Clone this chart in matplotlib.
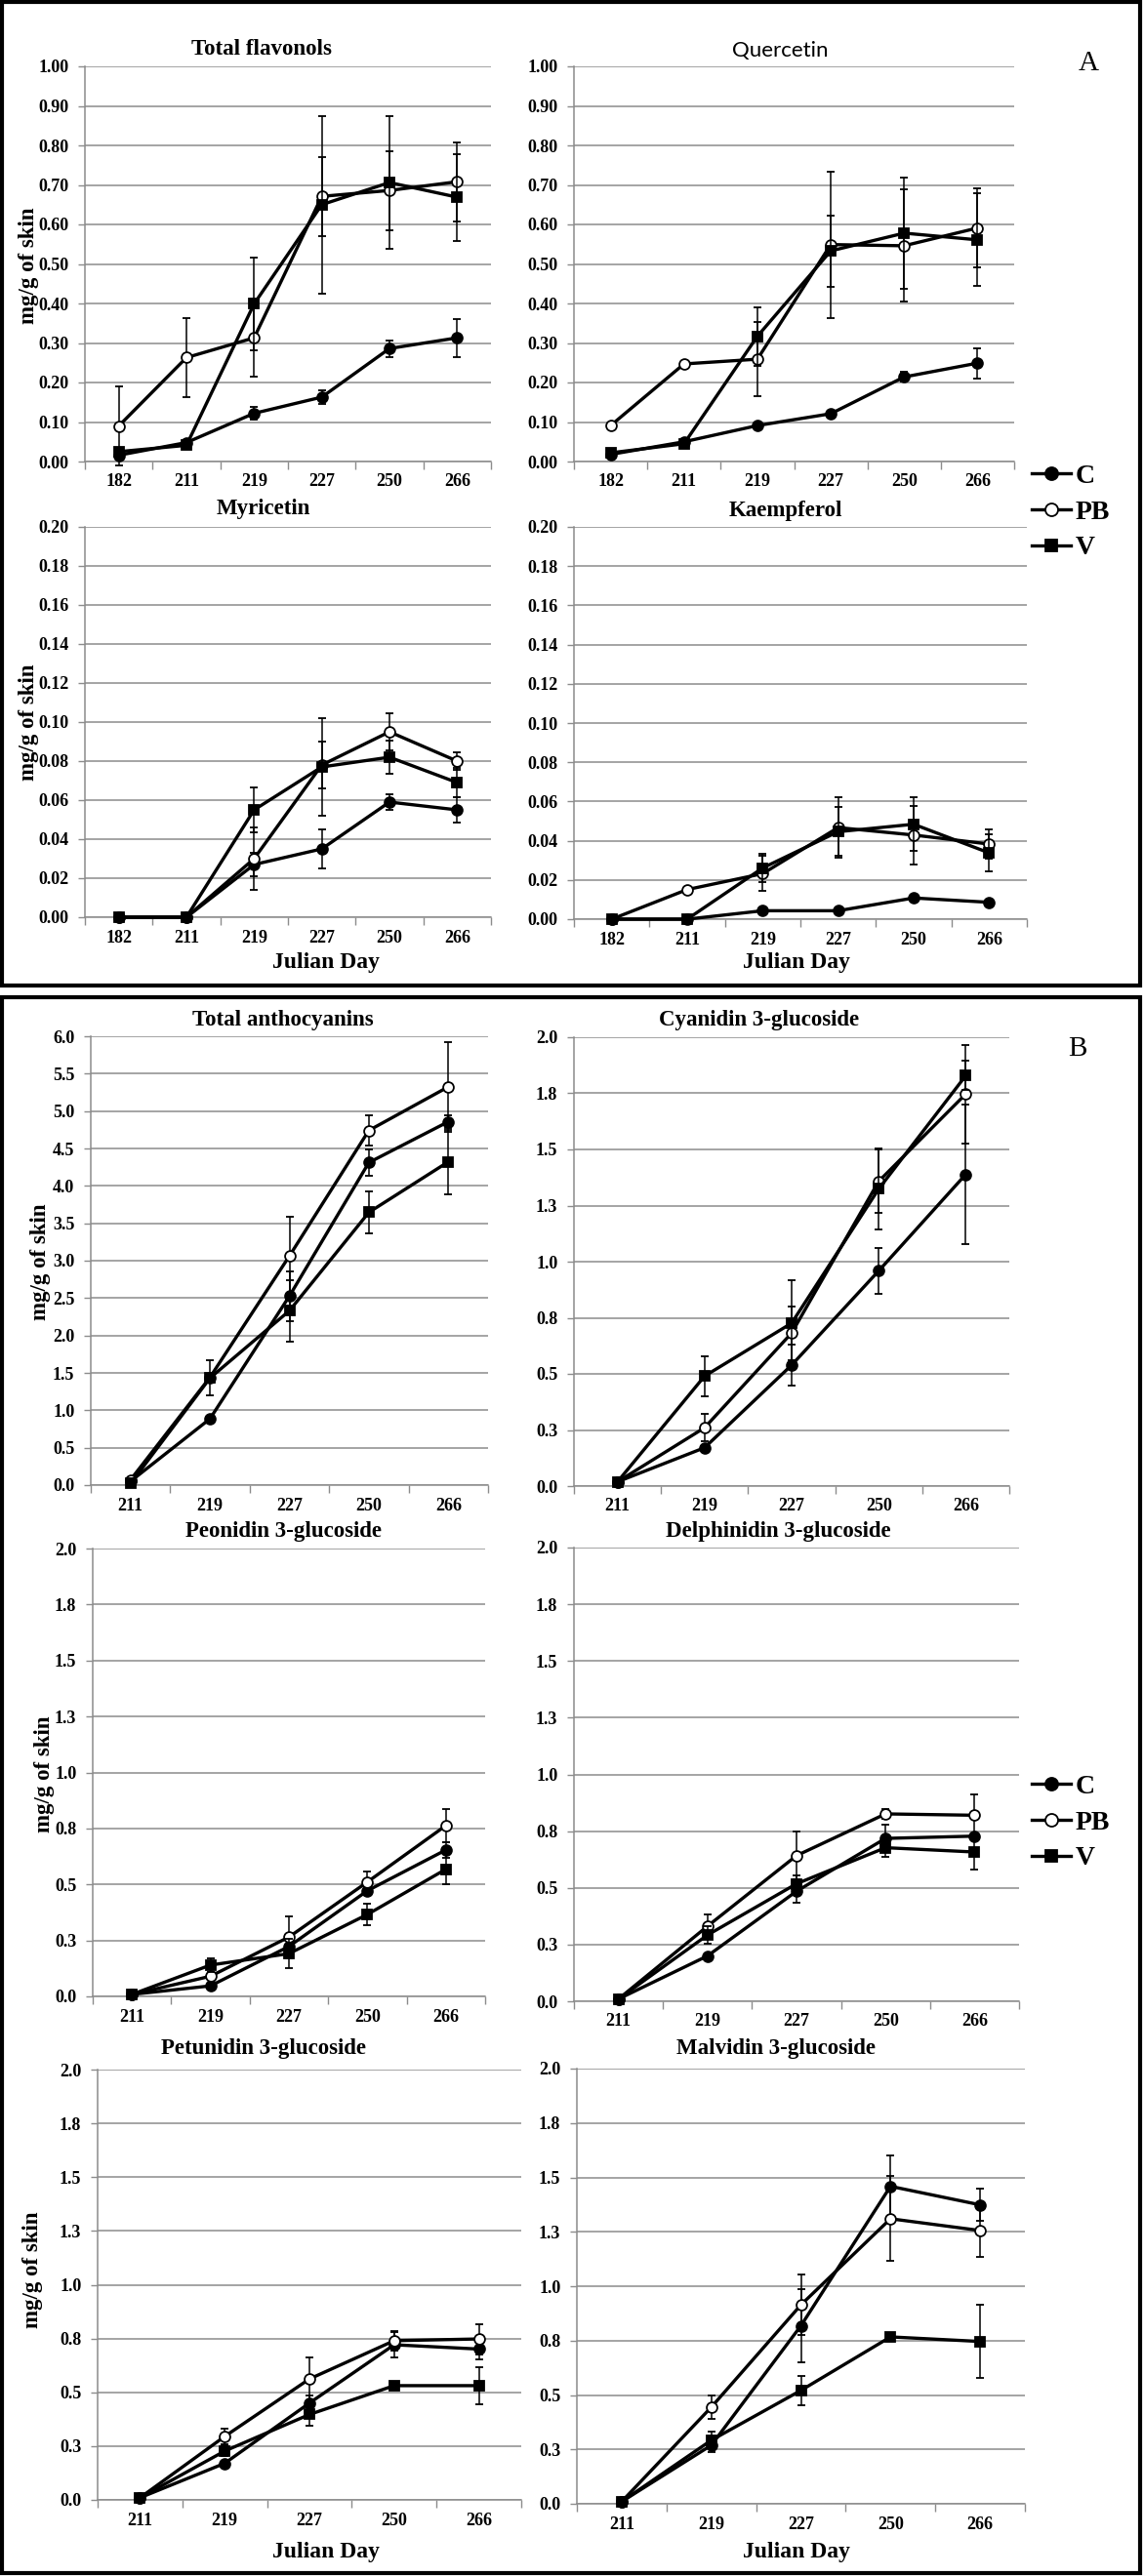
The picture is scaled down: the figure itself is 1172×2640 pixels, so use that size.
import numpy as np
import matplotlib
matplotlib.use("Agg")
import matplotlib.pyplot as plt
from matplotlib.patches import Rectangle

# ---------------- data ----------------
days_A = ["182", "211", "219", "227", "250", "266"]
days_B = ["211", "219", "227", "250", "266"]
series_names = ["C", "PB", "V"]

# Total flavonols
flav_C = [0.016, 0.048, 0.122, 0.163, 0.286, 0.313]
flav_C_err = [0, 0, 0.016, 0.018, 0.021, 0.048]
flav_PB = [0.090, 0.263, 0.313, 0.671, 0.686, 0.708]
flav_PB_err = [0.100, 0.099, 0.099, 0.100, 0.100, 0.100]
flav_V = [0.025, 0.041, 0.399, 0.650, 0.706, 0.669]
flav_V_err = [0, 0, 0.118, 0.225, 0.167, 0.110]

# Quercetin
quer_C = [0.018, 0.050, 0.091, 0.121, 0.214, 0.249]
quer_C_err = [0, 0, 0, 0, 0.012, 0.038]
quer_PB = [0.091, 0.247, 0.259, 0.549, 0.546, 0.591]
quer_PB_err = [0, 0, 0.093, 0.185, 0.142, 0.100]
quer_V = [0.022, 0.045, 0.317, 0.533, 0.578, 0.561]
quer_V_err = [0, 0, 0.074, 0.090, 0.140, 0.117]

# Myricetin
myr_C = [0, 0, 0.027, 0.035, 0.059, 0.055]
myr_C_err = [0, 0, 0.006, 0.010, 0.004, 0.0067]
myr_PB = [0, 0, 0.030, 0.078, 0.095, 0.080]
myr_PB_err = [0, 0, 0.016, 0.012, 0.0093, 0.0047]
myr_V = [0, 0, 0.055, 0.077, 0.082, 0.069]
myr_V_err = [0, 0, 0.0115, 0.025, 0.0085, 0.0075]

# Kaempferol
kae_C = [0, 0, 0.0043, 0.0043, 0.0108, 0.0086]
kae_C_err = [0, 0, 0, 0, 0, 0]
kae_PB = [0, 0.0151, 0.0232, 0.0467, 0.0429, 0.0383]
kae_PB_err = [0, 0, 0.009, 0.0155, 0.0148, 0.0077]
kae_V = [0, 0, 0.0261, 0.0446, 0.0484, 0.0338]
kae_V_err = [0, 0, 0.007, 0.0125, 0.0137, 0.0094]

# Total anthocyanins
anth_C = [0.05, 0.886, 2.527, 4.312, 4.858]
anth_C_err = [0, 0, 0.33, 0.18, 0.09]
anth_PB = [0.07, 1.44, 3.063, 4.741, 5.324]
anth_PB_err = [0, 0, 0.52, 0.196, 0.60]
anth_V = [0.02, 1.431, 2.331, 3.646, 4.322]
anth_V_err = [0, 0.233, 0.41, 0.28, 0.43]

# Cyanidin 3-glucoside
cya_C = [0.019, 0.171, 0.539, 0.959, 1.389]
cya_C_err = [0, 0, 0.09, 0.104, 0.31]
cya_PB = [0.019, 0.26, 0.682, 1.358, 1.747]
cya_PB_err = [0, 0.062, 0.12, 0.14, 0.22]
cya_V = [0.019, 0.49, 0.726, 1.324, 1.829]
cya_V_err = [0, 0.09, 0.19, 0.18, 0.065]

# Peonidin 3-glucoside
peo_C = [0.009, 0.047, 0.223, 0.472, 0.654]
peo_C_err = [0, 0, 0.05, 0.02, 0.035]
peo_PB = [0.009, 0.09, 0.265, 0.511, 0.763]
peo_PB_err = [0, 0, 0.093, 0.046, 0.075]
peo_V = [0.009, 0.14, 0.191, 0.366, 0.568]
peo_V_err = [0, 0.03, 0.065, 0.05, 0.068]

# Delphinidin 3-glucoside
del_C = [0.01, 0.20, 0.485, 0.718, 0.728]
del_C_err = [0, 0, 0.05, 0.06, 0]
del_PB = [0.01, 0.331, 0.642, 0.826, 0.82]
del_PB_err = [0, 0.05, 0.105, 0.02, 0.092]
del_V = [0.01, 0.292, 0.518, 0.677, 0.658]
del_V_err = [0, 0.04, 0.035, 0.04, 0.076]

# Petunidin 3-glucoside
pet_C = [0.01, 0.17, 0.45, 0.721, 0.701]
pet_C_err = [0, 0, 0.036, 0.057, 0.05]
pet_PB = [0.01, 0.295, 0.562, 0.74, 0.748]
pet_PB_err = [0, 0.037, 0.10, 0.045, 0.07]
pet_V = [0.01, 0.227, 0.397, 0.531, 0.531]
pet_V_err = [0, 0.025, 0.054, 0, 0.088]

# Malvidin 3-glucoside
mal_C = [0.01, 0.269, 0.818, 1.459, 1.374]
mal_C_err = [0, 0.03, 0.17, 0.14, 0.074]
mal_PB = [0.01, 0.444, 0.914, 1.31, 1.256]
mal_PB_err = [0, 0.053, 0.14, 0.195, 0.12]
mal_V = [0.01, 0.292, 0.521, 0.767, 0.746]
mal_V_err = [0, 0.04, 0.068, 0.01, 0.167]

# tick labels
yt_flav = [0.0, 0.1, 0.2, 0.3, 0.4, 0.5, 0.6, 0.7, 0.8, 0.9, 1.0]
yl_flav = ["0.00", "0.10", "0.20", "0.30", "0.40", "0.50", "0.60", "0.70", "0.80", "0.90", "1.00"]
yt_small = [0.0, 0.02, 0.04, 0.06, 0.08, 0.10, 0.12, 0.14, 0.16, 0.18, 0.20]
yl_small = ["0.00", "0.02", "0.04", "0.06", "0.08", "0.10", "0.12", "0.14", "0.16", "0.18", "0.20"]
yt_anth = [0.0, 0.5, 1.0, 1.5, 2.0, 2.5, 3.0, 3.5, 4.0, 4.5, 5.0, 5.5, 6.0]
yl_anth = ["0.0", "0.5", "1.0", "1.5", "2.0", "2.5", "3.0", "3.5", "4.0", "4.5", "5.0", "5.5", "6.0"]
yt_glu = [0.0, 0.25, 0.5, 0.75, 1.0, 1.25, 1.5, 1.75, 2.0]
yl_glu = ["0.0", "0.3", "0.5", "0.8", "1.0", "1.3", "1.5", "1.8", "2.0"]

# ---------------- figure ----------------
W, H, DPI = 1172, 2640, 100
plt.rcParams["font.family"] = ["Liberation Serif", "DejaVu Serif"]
plt.rcParams["font.weight"] = "bold"

fig = plt.figure(figsize=(W / DPI, H / DPI), dpi=DPI)
fig.patch.set_facecolor("white")

GRID = "#8c8c8c"


def fx(x):
    return x / W


def fy(y):
    return 1 - y / H


def make_axes(x0, x1, ytop, ybot):
    return fig.add_axes([fx(x0), fy(ybot), (x1 - x0) / W, (ybot - ytop) / H])


def draw(ax, days, data, ymax, yticks, yticklabels):
    n = len(days)
    x = np.arange(n)
    styles = [("o", "black", 7.8), ("o", "white", 7.8), ("s", "black", 7.4)]
    lines = []
    for (vals, errs), (mk, face, ms), z in zip(data, styles, [3, 4, 5]):
        e = np.array(errs, dtype=float)
        e[e == 0] = np.nan
        cont = ax.errorbar(x, vals, yerr=e, color="black", lw=2.4, marker=mk,
                           ms=ms, mfc=face, mec="black", mew=1.3,
                           ecolor="black", elinewidth=1.1, capsize=2.8,
                           capthick=1.1, zorder=z)
        for art in cont.get_children():
            art.set_clip_on(False)
        lines.append(cont[0])
    ax.set_xlim(-0.5, n - 0.5)
    ax.set_ylim(0, ymax)
    ax.set_yticks(yticks)
    ax.set_yticklabels(yticklabels)
    ax.set_xticks(np.arange(n + 1) - 0.5)
    ax.set_xticklabels([])
    ax.set_xticks(x, minor=True)
    ax.set_xticklabels(days, minor=True)
    ax.tick_params(axis="x", which="major", length=6, width=1.0, color=GRID,
                   direction="out")
    ax.tick_params(axis="x", which="minor", length=0, pad=9, labelsize=13)
    ax.tick_params(axis="y", length=5, width=1.0, color=GRID, pad=7,
                   labelsize=13)
    ax.grid(axis="y", color=GRID, lw=1.1)
    ax.set_axisbelow(True)
    for s in ["top", "right"]:
        ax.spines[s].set_visible(False)
    for s in ["left", "bottom"]:
        ax.spines[s].set_color(GRID)
        ax.spines[s].set_linewidth(1.1)
    ax.patch.set_alpha(0)
    return lines


def title(x, y, text, **kw):
    opts = dict(ha="center", va="center", fontsize=16.5, weight="bold")
    opts.update(kw)
    fig.text(fx(x), fy(y), text, **opts)


def ylabel(x, y):
    fig.text(fx(x), fy(y), "mg/g of skin", rotation=90, ha="center",
             va="center", fontsize=16.5, weight="bold")


def xlabel(x, y):
    fig.text(fx(x), fy(y), "Julian Day", ha="center", va="center",
             fontsize=17, weight="bold")


# Panel A
axA1 = make_axes(87, 503, 68, 473)
linesA = draw(axA1, days_A, [(flav_C, flav_C_err), (flav_PB, flav_PB_err),
                             (flav_V, flav_V_err)], 1.0, yt_flav, yl_flav)
axA2 = make_axes(588, 1039, 68, 473)
draw(axA2, days_A, [(quer_C, quer_C_err), (quer_PB, quer_PB_err),
                    (quer_V, quer_V_err)], 1.0, yt_flav, yl_flav)
axA3 = make_axes(87, 503, 540, 940)
draw(axA3, days_A, [(myr_C, myr_C_err), (myr_PB, myr_PB_err),
                    (myr_V, myr_V_err)], 0.2, yt_small, yl_small)
axA4 = make_axes(588, 1052, 540, 942)
draw(axA4, days_A, [(kae_C, kae_C_err), (kae_PB, kae_PB_err),
                    (kae_V, kae_V_err)], 0.2, yt_small, yl_small)

title(268, 50, "Total flavonols")
title(799, 52, "Quercetin", family="Lato", weight="normal", fontsize=16)
title(270, 522, "Myricetin")
title(805, 523, "Kaempferol")
ylabel(29, 272)
ylabel(29, 740)
xlabel(334, 987)
xlabel(816, 987)
fig.text(fx(1115), fy(65), "A", ha="center", va="center", fontsize=21,
         weight="normal")

# Panel B
axB1 = make_axes(93, 500, 1062, 1522)
linesB = draw(axB1, days_B, [(anth_C, anth_C_err), (anth_PB, anth_PB_err),
                             (anth_V, anth_V_err)], 6.0, yt_anth, yl_anth)
axB2 = make_axes(588, 1034, 1063, 1523)
draw(axB2, days_B, [(cya_C, cya_C_err), (cya_PB, cya_PB_err),
                    (cya_V, cya_V_err)], 2.0, yt_glu, yl_glu)
axB3 = make_axes(95, 497, 1587, 2046)
draw(axB3, days_B, [(peo_C, peo_C_err), (peo_PB, peo_PB_err),
                    (peo_V, peo_V_err)], 2.0, yt_glu, yl_glu)
axB4 = make_axes(588, 1044, 1586, 2051)
draw(axB4, days_B, [(del_C, del_C_err), (del_PB, del_PB_err),
                    (del_V, del_V_err)], 2.0, yt_glu, yl_glu)
axB5 = make_axes(100, 534, 2121, 2562)
draw(axB5, days_B, [(pet_C, pet_C_err), (pet_PB, pet_PB_err),
                    (pet_V, pet_V_err)], 2.0, yt_glu, yl_glu)
axB6 = make_axes(591, 1050, 2120, 2566)
draw(axB6, days_B, [(mal_C, mal_C_err), (mal_PB, mal_PB_err),
                    (mal_V, mal_V_err)], 2.0, yt_glu, yl_glu)

title(290, 1046, "Total anthocyanins")
title(778, 1046, "Cyanidin 3-glucoside")
title(291, 1570, "Peonidin 3-glucoside")
title(797, 1570, "Delphinidin 3-glucoside")
title(270, 2100, "Petunidin 3-glucoside")
title(795, 2100, "Malvidin 3-glucoside")
ylabel(41, 1293)
ylabel(46, 1818)
ylabel(34, 2326)
xlabel(334, 2616)
xlabel(816, 2616)
fig.text(fx(1104), fy(1075), "B", ha="center", va="center", fontsize=21,
         weight="normal")

# legends
leg_kw = dict(loc="center left", frameon=False,
              prop=dict(family="Liberation Serif", weight="bold", size=20),
              handlelength=1.45, handletextpad=0.15, labelspacing=0.4,
              borderpad=0, borderaxespad=0, markerscale=1.2)
fig.legend(linesA, series_names, bbox_to_anchor=(fx(1057), fy(525)), **leg_kw)
fig.legend(linesB, series_names, bbox_to_anchor=(fx(1057), fy(1868)), **leg_kw)

# panel frames
for (x0, y0, x1, y1) in [(2, 2, 1168, 1010), (2, 1022, 1168, 2637)]:
    fig.add_artist(Rectangle((fx(x0), fy(y1)), (x1 - x0) / W, (y1 - y0) / H,
                             transform=fig.transFigure, fill=False, lw=3.0,
                             ec="black"))

fig.savefig("out.png", dpi=DPI, facecolor="white")
